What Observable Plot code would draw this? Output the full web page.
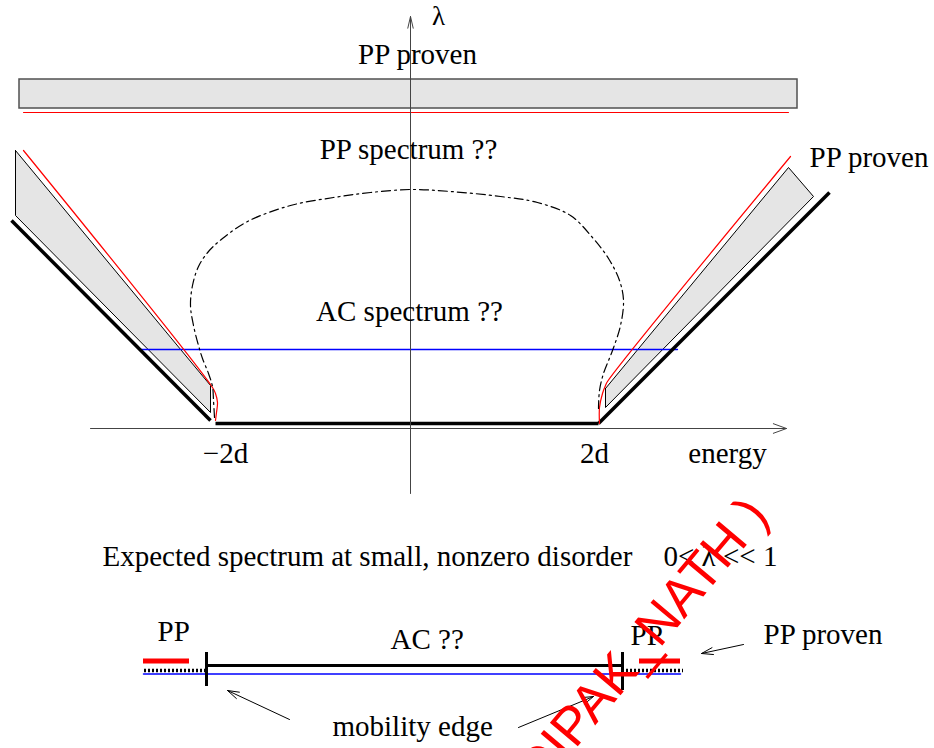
<!DOCTYPE html>
<html><head><meta charset="utf-8">
<script src="https://cdn.jsdelivr.net/npm/d3@7"></script>
<script src="https://cdn.jsdelivr.net/npm/@observablehq/plot@0.6"></script>
<style>html,body{margin:0;padding:0;background:#fff}#chart svg{display:block}</style>
</head><body><div id="chart"></div>
<script>
// Sketch coordinates: e = energy (arbitrary units), l = disorder λ (arbitrary units)
const provenBand = [{e1: -3.91, e2: 3.87, l1: 3.15, l2: 3.44}];
const provenBandEdge = [[-3.87, 3.11], [3.78, 3.11]];
const leftWedge = [[-3.95, 2.73], [-3.95, 2.08], [-2.00, 0.11], [-2.00, 0.38], [-3.95, 2.73]];
const rightWedge = [[1.95, 0.35], [3.78, 2.56], [4.03, 2.27], [1.95, 0.16], [1.95, 0.35]];
const spectrumLeft = [[-3.99, 2.03], [-2.00, 0.03]];
const spectrumBand = [[-1.95, 0], [1.88, 0]];
const spectrumRight = [[1.88, 0], [4.19, 2.31]];
const redEdgeLeft = [[-3.87, 2.73], [-1.98, 0.36], [-1.95, 0.30], [-1.93, 0.21], [-1.94, 0.11], [-1.95, 0.03]];
const redEdgeRight = [[1.89, 0], [1.89, 0.16], [1.92, 0.30], [1.95, 0.38], [1.97, 0.42], [3.80, 2.67]];
const blueLevel = [[-2.70, 0.74], [2.67, 0.74]];
const acDome = [
  [-1.96, 0.06], [-1.97, 0.23], [-1.98, 0.37], [-2.02, 0.50], [-2.08, 0.65], [-2.12, 0.78],
  [-2.17, 0.98], [-2.20, 1.18], [-2.18, 1.38], [-2.12, 1.57], [-2.02, 1.72], [-1.88, 1.85],
  [-1.63, 2.02], [-1.20, 2.18], [-0.77, 2.26], [-0.40, 2.31], [0, 2.34], [0.40, 2.32],
  [0.90, 2.27], [1.27, 2.21], [1.60, 2.08], [1.82, 1.86], [1.98, 1.65], [2.09, 1.43],
  [2.13, 1.23], [2.10, 0.98], [2.02, 0.73], [1.93, 0.50], [1.89, 0.33], [1.88, 0.15]
];
const axes = [
  {e1: 0, l1: -0.70, e2: 0, l2: 4.07},
  {e1: -3.20, l1: -0.05, e2: 3.76, l2: -0.05}
];
const tickLabels = ["\u22122d", "2d"];
const tickEnergies = [-1.85, 1.84];
const centerLabels = [
  {text: "PP proven", e: 0.07, l: 3.60},
  {text: "PP spectrum ??", e: -0.02, l: 2.65},
  {text: "AC spectrum ??", e: -0.01, l: 1.03},
  {text: "energy", e: 3.17, l: -0.39}
];
const axisName = [{text: "\u03bb", e: 0.28, l: 3.99}];
const startLabels = [
  {text: "PP proven", e: 3.99, l: 2.57},
  {text: "Expected spectrum at small, nonzero disorder", e: -3.08, l: -1.42},
  {text: "0< \u03bb << 1", e: 2.53, l: -1.42},
  {text: "PP", e: -2.53, l: -2.17},
  {text: "AC ??", e: -0.20, l: -2.25},
  {text: "PP", e: 2.20, l: -2.21},
  {text: "PP proven", e: 3.53, l: -2.20},
  {text: "mobility edge", e: -0.78, l: -3.12}
];
// Bottom sketch: expected spectrum at small disorder
const acSegment = [[-2.05, -2.42], [2.12, -2.42]];
const bottomBlue = [[-2.67, -2.505], [2.70, -2.505]];
const mobilityEdges = [{e: -2.04, l1: -2.29, l2: -2.63}, {e: 2.12, l1: -2.29, l2: -2.67}];
const ppProven = [{e1: -2.67, e2: -2.21}, {e1: 2.29, e2: 2.70}];
const ppDotted = [{e1: -2.66, e2: -2.05}, {e1: 2.12, e2: 2.73}];
const ppLevel = -2.375, dottedLevel = -2.47;
const pointers = [
  {e1: -1.21, l1: -2.96, e2: -1.83, l2: -2.67},
  {e1: 1.08, l1: -3.04, e2: 1.83, l2: -2.73},
  {e1: 3.33, l1: -2.21, e2: 2.91, l2: -2.30}
];
const watermark = [{text: "(DIPAK_NATH )", e: 3.60, l: -0.93}];

const X = d => d[0], Y = d => d[1];
const serif = "Liberation Serif, Times New Roman, serif";
const ink = "#000";
const blue = "#0000ff";

const chart = Plot.plot({
  width: 934, height: 748, margin: 0,
  x: {domain: [-4.10, 5.24], axis: null},
  y: {domain: [-3.25, 4.23], axis: null},
  style: {background: "white", overflow: "visible"},
  marks: [
    Plot.rect(provenBand, {x1: "e1", x2: "e2", y1: "l1", y2: "l2", fill: "#e5e5e5", stroke: "#505050", strokeWidth: 1.5}),
    Plot.line(provenBandEdge, {x: X, y: Y, stroke: "red", strokeWidth: 1}),
    Plot.line(leftWedge, {x: X, y: Y, fill: "#e5e5e5", stroke: ink, strokeWidth: 1, strokeLinejoin: "miter"}),
    Plot.line(rightWedge, {x: X, y: Y, fill: "#e5e5e5", stroke: ink, strokeWidth: 1, strokeLinejoin: "miter"}),
    Plot.line(blueLevel, {x: X, y: Y, stroke: blue, strokeWidth: 1.3}),
    Plot.line(spectrumLeft, {x: X, y: Y, stroke: ink, strokeWidth: 3.5, strokeLinecap: "butt"}),
    Plot.line(spectrumBand, {x: X, y: Y, stroke: ink, strokeWidth: 3.5, strokeLinecap: "butt"}),
    Plot.line(spectrumRight, {x: X, y: Y, stroke: ink, strokeWidth: 3.5, strokeLinecap: "butt"}),
    Plot.line(redEdgeLeft, {x: X, y: Y, stroke: "red", strokeWidth: 1.2, curve: "catmull-rom"}),
    Plot.line(redEdgeRight, {x: X, y: Y, stroke: "red", strokeWidth: 1.2, curve: "catmull-rom"}),
    Plot.line(acDome, {x: X, y: Y, stroke: ink, strokeWidth: 1.2, curve: "catmull-rom", strokeDasharray: "9,4,2,4"}),
    Plot.arrow([axes[0]], {x1: "e1", y1: "l1", x2: "e2", y2: "l2", stroke: "#444", strokeWidth: 1, headLength: 18, headAngle: 26}),
    Plot.arrow([axes[1]], {x1: "e1", y1: "l1", x2: "e2", y2: "l2", stroke: "#444", strokeWidth: 1, headLength: 21, headAngle: 40}),
    Plot.text(tickLabels, {x: (d, i) => tickEnergies[i], y: -0.39, text: d => d, textAnchor: "middle", lineAnchor: "bottom", fontFamily: serif, fontSize: 29, fill: ink}),
    Plot.text(centerLabels, {x: "e", y: "l", text: "text", textAnchor: "middle", lineAnchor: "bottom", fontFamily: serif, fontSize: 29, fill: ink}),
    Plot.text(axisName, {x: "e", y: "l", text: "text", textAnchor: "middle", lineAnchor: "bottom", fontFamily: serif, fontSize: 27, fill: ink}),
    Plot.text(startLabels, {x: "e", y: "l", text: "text", textAnchor: "start", lineAnchor: "bottom", fontFamily: serif, fontSize: 29, fill: ink}),
    // bottom sketch
    Plot.line(bottomBlue, {x: X, y: Y, stroke: blue, strokeWidth: 1.5}),
    Plot.line(acSegment, {x: X, y: Y, stroke: ink, strokeWidth: 3.2, strokeLinecap: "butt"}),
    Plot.ruleY(ppDotted, {x1: "e1", x2: "e2", y: dottedLevel, stroke: ink, strokeWidth: 3.5, strokeDasharray: "2,2"}),
    Plot.ruleY(ppProven, {x1: "e1", x2: "e2", y: ppLevel, stroke: "red", strokeWidth: 5}),
    Plot.ruleX(mobilityEdges, {x: "e", y1: "l1", y2: "l2", stroke: ink, strokeWidth: 3}),
    Plot.arrow(pointers, {x1: "e1", y1: "l1", x2: "e2", y2: "l2", stroke: ink, strokeWidth: 1, headLength: 18, headAngle: 34}),
    Plot.text(watermark, {x: "e", y: "l", text: "text", rotate: -50, textAnchor: "end", lineAnchor: "bottom", fontFamily: "Liberation Sans, Arial, sans-serif", fontSize: 53, fill: "red"})
  ]
});
document.getElementById("chart").appendChild(chart);
</script></body></html>
